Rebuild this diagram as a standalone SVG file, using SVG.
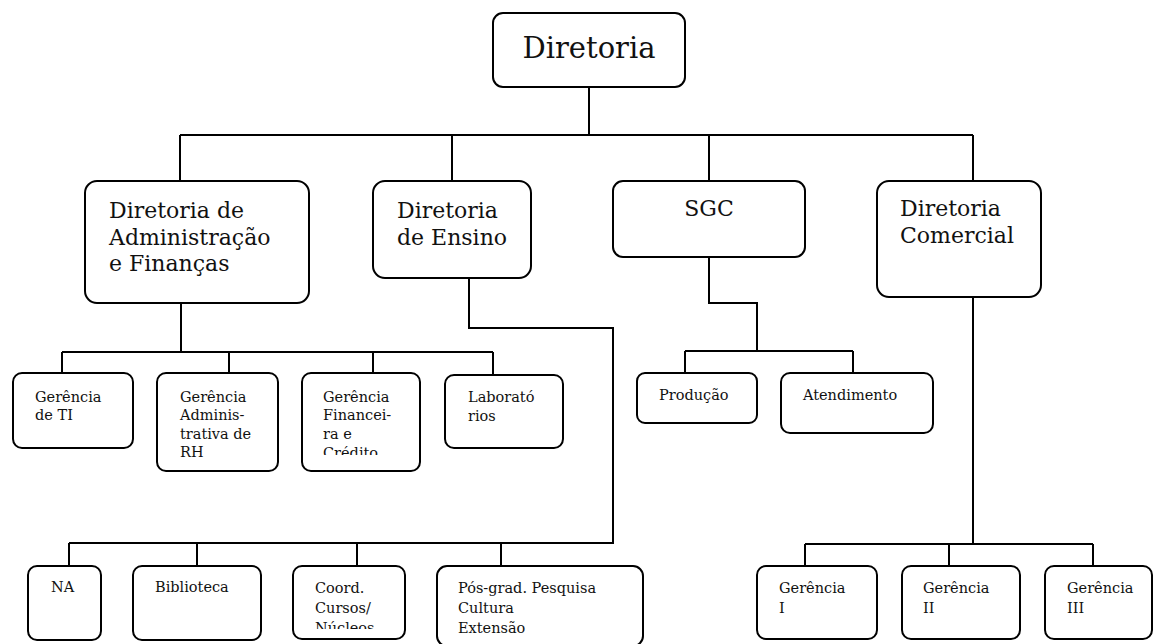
<svg xmlns="http://www.w3.org/2000/svg" width="1154" height="644" viewBox="0 0 1154 644">
  <style>
    .box { fill: #ffffff; stroke: #000000; stroke-width: 2; }
    .wire { fill: none; stroke: #000000; stroke-width: 2; }
    text { font-family: "DejaVu Serif", "Liberation Serif", serif; fill: #111111; }
    .t1 { font-size: 29px; }
    .t2 { font-size: 22px; }
    .t3 { font-size: 14.5px; }
  </style>
  <defs>
    <clipPath id="clipFin"><rect x="300" y="370" width="125" height="85"/></clipPath>
    <clipPath id="clipCoord"><rect x="290" y="560" width="120" height="69"/></clipPath>
  </defs>
  <rect width="1154" height="644" fill="#ffffff"/>

  <!-- connectors -->
  <g id="connectors" class="wire">
    <path d="M589 87 V135 M180 135 H973 M180 135 V181 M452 135 V181 M709 135 V181 M973 135 V181"/>
    <path d="M181 303 V352 M62 352 H493 M62 352 V373 M229 352 V373 M373 352 V373 M493 352 V375"/>
    <path d="M709 257 V303 H757 V351 M685 351 H853 M685 351 V373 M853 351 V373"/>
    <path d="M469 278 V328 H613 V543 H69 M69 543 V566 M197 543 V566 M357 543 V566 M501 543 V566"/>
    <path d="M973 297 V544 M805 544 H1093 M805 544 V566 M949 544 V566 M1093 544 V566"/>
  </g>

  <g id="diretoria">
    <rect class="box" x="493" y="13" width="192" height="74" rx="10"/>
    <text class="t1" x="589" y="58" text-anchor="middle">Diretoria</text>
  </g>

  <g id="dir-adm">
    <rect class="box" x="85" y="181" width="224" height="122" rx="12"/>
    <text class="t2" x="109" y="218">Diretoria de</text>
    <text class="t2" x="109" y="245">Administração</text>
    <text class="t2" x="109" y="271">e  Finanças</text>
  </g>

  <g id="dir-ensino">
    <rect class="box" x="373" y="181" width="158" height="97" rx="12"/>
    <text class="t2" x="397" y="218">Diretoria</text>
    <text class="t2" x="397" y="245">de Ensino</text>
  </g>

  <g id="sgc">
    <rect class="box" x="613" y="181" width="192" height="76" rx="10"/>
    <text class="t2" x="709" y="216" text-anchor="middle">SGC</text>
  </g>

  <g id="dir-comercial">
    <rect class="box" x="877" y="181" width="164" height="116" rx="12"/>
    <text class="t2" x="900" y="216">Diretoria</text>
    <text class="t2" x="900" y="243">Comercial</text>
  </g>

  <g id="ger-ti">
    <rect class="box" x="13" y="373" width="120" height="75" rx="9"/>
    <text class="t3" x="35" y="402">Gerência</text>
    <text class="t3" x="35" y="420">de TI</text>
  </g>

  <g id="ger-adm-rh">
    <rect class="box" x="157" y="373" width="121" height="98" rx="9"/>
    <text class="t3" x="180" y="402">Gerência</text>
    <text class="t3" x="180" y="420">Adminis-</text>
    <text class="t3" x="180" y="439">trativa de</text>
    <text class="t3" x="180" y="457">RH</text>
  </g>

  <g id="ger-fin">
    <rect class="box" x="302" y="373" width="118" height="98" rx="9"/>
    <g clip-path="url(#clipFin)">
      <text class="t3" x="323" y="402">Gerência</text>
      <text class="t3" x="323" y="420">Financei-</text>
      <text class="t3" x="323" y="439">ra e</text>
      <text class="t3" x="323" y="458">Crédito</text>
    </g>
  </g>

  <g id="laboratorios">
    <rect class="box" x="445" y="375" width="118" height="73" rx="9"/>
    <text class="t3" x="468" y="402">Laborató</text>
    <text class="t3" x="468" y="421">rios</text>
  </g>

  <g id="producao">
    <rect class="box" x="637" y="373" width="120" height="50" rx="8"/>
    <text class="t3" x="659" y="400">Produção</text>
  </g>

  <g id="atendimento">
    <rect class="box" x="781" y="373" width="152" height="60" rx="9"/>
    <text class="t3" x="803" y="400">Atendimento</text>
  </g>

  <g id="na">
    <rect class="box" x="28" y="566" width="73" height="74" rx="9"/>
    <text class="t3" x="51" y="592">NA</text>
  </g>

  <g id="biblioteca">
    <rect class="box" x="133" y="566" width="128" height="74" rx="9"/>
    <text class="t3" x="155" y="592">Biblioteca</text>
  </g>

  <g id="coord">
    <rect class="box" x="293" y="566" width="112" height="73" rx="9"/>
    <g clip-path="url(#clipCoord)">
      <text class="t3" x="315" y="593">Coord.</text>
      <text class="t3" x="315" y="613">Cursos/</text>
      <text class="t3" x="315" y="633">Núcleos</text>
    </g>
  </g>

  <g id="pos-grad">
    <rect class="box" x="437" y="566" width="206" height="80" rx="10"/>
    <text class="t3" x="458" y="593">Pós-grad. Pesquisa</text>
    <text class="t3" x="458" y="613">Cultura</text>
    <text class="t3" x="458" y="633">Extensão</text>
  </g>

  <g id="ger-1">
    <rect class="box" x="757" y="566" width="120" height="73" rx="9"/>
    <text class="t3" x="779" y="593">Gerência</text>
    <text class="t3" x="779" y="613">I</text>
  </g>

  <g id="ger-2">
    <rect class="box" x="902" y="566" width="118" height="73" rx="9"/>
    <text class="t3" x="923" y="593">Gerência</text>
    <text class="t3" x="923" y="613">II</text>
  </g>

  <g id="ger-3">
    <rect class="box" x="1045" y="566" width="107" height="73" rx="9"/>
    <text class="t3" x="1067" y="593">Gerência</text>
    <text class="t3" x="1067" y="613">III</text>
  </g>
</svg>
